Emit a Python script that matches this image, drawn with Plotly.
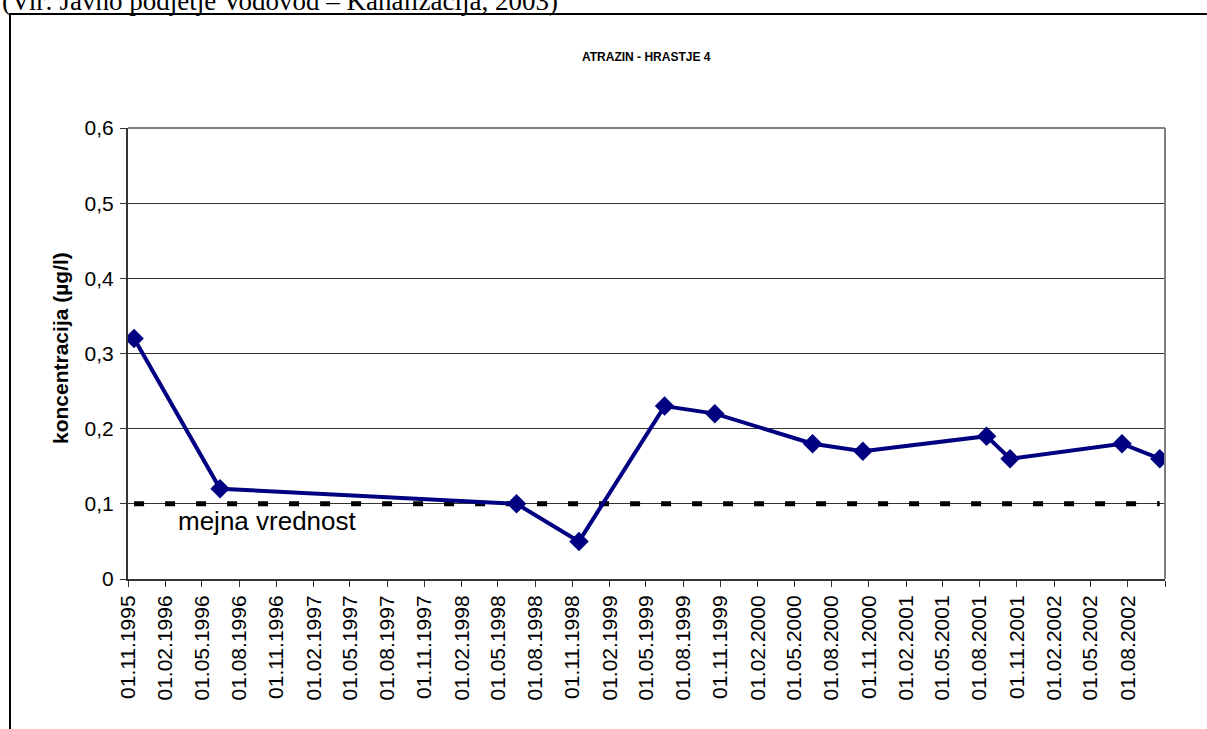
import pandas as pd
import plotly.graph_objects as go

sample_dates = [
    "1995-11-16", "1996-06-15", "1998-06-16", "1998-11-17",
    "1999-06-16", "1999-10-18", "2000-06-15", "2000-10-17",
    "2001-08-18", "2001-10-15", "2002-07-18", "2002-10-19",
]
atrazin = [0.32, 0.12, 0.10, 0.05, 0.23, 0.22, 0.18, 0.17, 0.19, 0.16, 0.18, 0.16]

limit_value = 0.1
limit_label = "mejna vrednost"

# x axis: a tick every 3 months, Excel leaves the last one without a label
tick_dates = pd.date_range("1995-11-01", "2002-11-01", freq="3MS")
tick_labels = [d.strftime("%d.%m.%Y") for d in tick_dates[:-1]] + [""]

y_ticks = [0, 0.1, 0.2, 0.3, 0.4, 0.5, 0.6]
y_tick_labels = ["0", "0,1", "0,2", "0,3", "0,4", "0,5", "0,6"]

# plot area in pixels (page is 1207x729)
W, H = 1207, 729
L, R, T, B = 128, 1165, 128, 579


def px(x):
    return (x - L) / (R - L)


def py(y):
    return 1 - (y - T) / (B - T)


fig = go.Figure()

# limit line (dashed)
fig.add_trace(go.Scatter(
    x=[sample_dates[0], sample_dates[-1]],
    y=[limit_value, limit_value],
    mode="lines",
    line=dict(color="black", width=5, dash="10px,21px"),
    hoverinfo="skip",
))

# measured concentration
fig.add_trace(go.Scatter(
    x=sample_dates,
    y=atrazin,
    mode="lines+markers",
    line=dict(color="#000080", width=4),
    marker=dict(symbol="diamond", size=15, color="#000080"),
))

fig.update_layout(
    width=W, height=H,
    margin=dict(l=L, r=W - R, t=T, b=H - B),
    paper_bgcolor="white",
    plot_bgcolor="white",
    showlegend=False,
    font=dict(family="Liberation Sans, Arial", color="black"),
)

fig.update_xaxes(
    type="date",
    range=["1995-11-01", "2002-11-01"],
    tickvals=list(tick_dates),
    ticktext=tick_labels,
    tickangle=-90,
    tickfont=dict(size=21),
    ticks="outside", ticklen=6, tickcolor="#333",
    showline=True, linecolor="#333", linewidth=2,
    showgrid=False, zeroline=False,
)

fig.update_yaxes(
    range=[0, 0.6],
    tickvals=y_ticks,
    ticktext=y_tick_labels,
    tickfont=dict(size=21),
    ticks="outside", ticklen=6, tickcolor="#333",
    ticklabelstandoff=2,
    showline=True, linecolor="#333", linewidth=2,
    showgrid=True, gridcolor="#333", gridwidth=1,
    zeroline=False,
)

# gray plot area border on top and right (Excel style)
fig.add_shape(type="line", xref="paper", yref="paper", x0=0, x1=1, y0=1, y1=1,
              line=dict(color="#808080", width=2))
fig.add_shape(type="line", xref="paper", yref="paper", x0=1, x1=1, y0=0, y1=1,
              line=dict(color="#808080", width=2))

# outer chart frame
fig.add_shape(type="rect", xref="paper", yref="paper",
              x0=px(10), x1=px(1215), y0=py(740), y1=py(14),
              line=dict(color="black", width=2))

# source line from the document, cut at the top of the page
fig.add_annotation(
    text="(Vir: Javno podjetje Vodovod \u2013 Kanalizacija, 2003)",
    xref="paper", yref="paper", x=px(0), y=py(18),
    xanchor="left", yanchor="bottom", showarrow=False,
    font=dict(family="Liberation Serif, Times New Roman", size=27),
)

fig.add_annotation(
    text="<b>ATRAZIN - HRASTJE 4</b>",
    xref="paper", yref="paper", x=px(646), y=py(57),
    xanchor="center", yanchor="middle", showarrow=False,
    font=dict(size=12),
)

fig.add_annotation(
    text="<b>koncentracija (\u00b5g/l)</b>",
    xref="paper", yref="paper", x=px(60), y=py(348),
    xanchor="center", yanchor="middle", textangle=-90, showarrow=False,
    font=dict(size=21),
)

fig.add_annotation(
    text=limit_label,
    xref="paper", yref="paper", x=px(176), y=py(521),
    xanchor="left", yanchor="middle", showarrow=False,
    font=dict(size=26),
)

# drop the default page margin so the figure sits at the window's corner
fig.write_html("out.html", config={"displayModeBar": False},
               post_script="document.body.style.margin='0px';")
